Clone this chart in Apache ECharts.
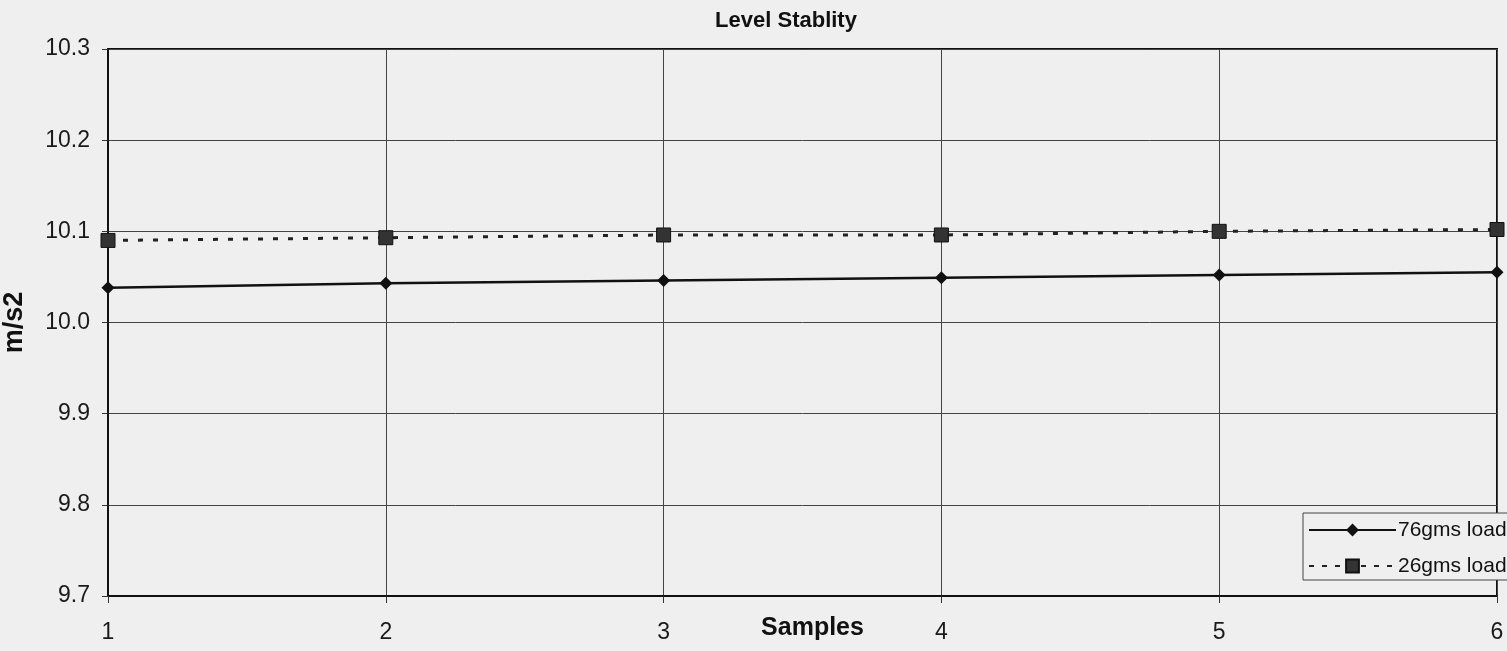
<!DOCTYPE html>
<html>
<head>
<meta charset="utf-8">
<script src="https://cdn.jsdelivr.net/npm/echarts@6/dist/echarts.min.js"></script>
<style>
html,body{margin:0;padding:0;background:#efefef;}
#c{width:1507px;height:651px;}
</style>
</head>
<body>
<div id="c"></div>
<script>
const categories = ['1','2','3','4','5','6'];
const load76 = [10.038, 10.043, 10.046, 10.049, 10.052, 10.055];
const load26 = [10.090, 10.093, 10.096, 10.096, 10.100, 10.102];
const seriesNames = ['76gms load', '26gms load'];

const font = 'Arial, "Liberation Sans", Helvetica, sans-serif';
const chart = echarts.init(document.getElementById('c'));
chart.setOption({
  backgroundColor: '#efefef',
  animation: false,
  textStyle: { fontFamily: font },
  title: {
    text: 'Level Stablity',
    left: 781, top: 5, textAlign: 'center',
    textStyle: { fontSize: 22, fontWeight: 'bold', color: '#111', fontFamily: font }
  },
  legend: {
    left: 1303, top: 513,
    orient: 'vertical',
    itemGap: 14,
    itemWidth: 87, itemHeight: 16,
    padding: [6, 8, 3, 5],
    backgroundColor: '#efefef',
    borderColor: '#444', borderWidth: 1,
    textStyle: { fontSize: 21, lineHeight: 22, color: '#111', fontFamily: font, padding: [0,0,0,-3] },
    data: [
      { name: seriesNames[0] },
      { name: seriesNames[1], lineStyle: { type: [5, 8] } }
    ]
  },
  grid: {
    left: 108, right: 10, top: 49, bottom: 55,
    outerBoundsMode: 'none',
    containLabel: false,
    show: true, borderColor: '#111', borderWidth: 2
  },
  xAxis: {
    type: 'category',
    data: categories,
    boundaryGap: false,
    name: 'Samples',
    nameLocation: 'middle',
    nameGap: 20,
    nameMoveOverlap: false,
    nameTextStyle: { fontSize: 25, fontWeight: 'bold', color: '#111', fontFamily: font, padding: [0,0,0,20] },
    axisLine: { lineStyle: { color: '#111', width: 2 } },
    axisTick: { show: true, length: 7, lineStyle: { color: '#333' } },
    axisLabel: { fontSize: 23, color: '#1a1a1a', margin: 25, fontFamily: font },
    splitLine: { show: true, lineStyle: { color: '#444', width: 1 } }
  },
  yAxis: {
    type: 'value',
    min: 9.7, max: 10.3, interval: 0.1,
    name: 'm/s2',
    nameLocation: 'middle',
    nameGap: 80,
    nameRotate: 90,
    nameMoveOverlap: false,
    nameTextStyle: { fontSize: 27, fontWeight: 'bold', color: '#111', fontFamily: font },
    axisLine: { show: true, lineStyle: { color: '#111', width: 2 } },
    axisTick: { show: true, length: 6, lineStyle: { color: '#333' } },
    axisLabel: { fontSize: 23, color: '#1a1a1a', margin: 18, fontFamily: font,
      formatter: v => v.toFixed(1) },
    splitLine: { show: true, lineStyle: { color: '#444', width: 1 } }
  },
  series: [
    {
      name: seriesNames[0], type: 'line', data: load76,
      symbol: 'diamond', symbolSize: 13,
      itemStyle: { color: '#111' },
      lineStyle: { color: '#111', width: 2.5 }
    },
    {
      name: seriesNames[1], type: 'line', data: load26,
      symbol: 'rect', symbolSize: 14,
      itemStyle: { color: '#333', borderColor: '#111', borderWidth: 1 },
      lineStyle: { color: '#222', width: 3, type: [5, 10] }
    }
  ]
});
</script>
</body>
</html>
